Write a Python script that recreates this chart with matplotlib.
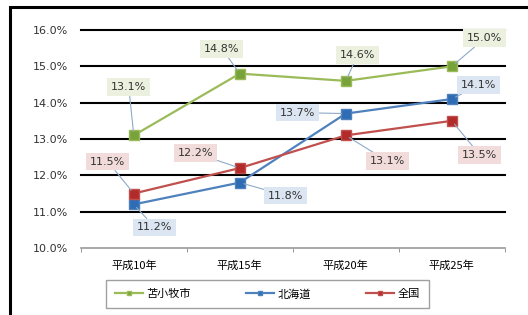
import matplotlib.pyplot as plt
from matplotlib.patches import Rectangle

plt.rcParams['font.family'] = ['Noto Sans CJK JP', 'DejaVu Sans']

categories = ['平成10年', '平成15年', '平成20年', '平成25年']
tomakomai = [13.1, 14.8, 14.6, 15.0]
hokkaido = [11.2, 11.8, 13.7, 14.1]
zenkoku = [11.5, 12.2, 13.1, 13.5]
series_names = ['苫小牧市', '北海道', '全国']

fig = plt.figure(figsize=(5.28, 3.15), dpi=100)
ax = fig.add_axes([0.153, 0.2127, 0.803, 0.692])

# outer frame (cut off on the right / bottom like the scan)
fig.patches.append(Rectangle((10 / 528, -0.05), 1.1, 1 - 7 / 315 + 0.05,
                             transform=fig.transFigure, fill=False,
                             edgecolor='black', lw=2.2, zorder=0))

x = [i + 0.5 for i in range(len(categories))]
colors = ['#9BBB59', '#4F81BD', '#C0504D']
mcolors = ['#77A33A', '#2E6DB4', '#B32A2A']
boxcolors = ['#EBF1DE', '#DCE6F2', '#F2DCDB']
data = [tomakomai, hokkaido, zenkoku]

# label offsets in pixels (dx, dy) from each marker
offsets = [
    [(-5, 48), (-18, 25), (12, 26), (33, 28)],
    [(21, -23), (46, -13), (-48, 1), (27, 14)],
    [(-26, 32), (-44, 15), (42, -26), (28, -34)],
]

for vals, c, mc, bc, offs, name in zip(data, colors, mcolors, boxcolors, offsets, series_names):
    ax.plot(x, vals, color=c, lw=1.6, marker='s', ms=7, mfc=mc, mec=c,
            label=name, zorder=3)
    for xi, v, (dx, dy) in zip(x, vals, offs):
        ax.annotate(f'{v:.1f}%', (xi, v), xytext=(dx, dy), textcoords='offset pixels',
                    ha='center', va='center', fontsize=8, color='#333333',
                    family=['DejaVu Sans'],
                    bbox=dict(boxstyle='square,pad=0.35', fc=bc, ec='none'),
                    arrowprops=dict(arrowstyle='-', color='#8EA9C8', lw=0.8,
                                    shrinkA=0, shrinkB=3),
                    zorder=4)

ax.set_xlim(0, 4)
ax.set_ylim(10, 16)
ax.set_yticks(range(10, 17))
ax.set_yticklabels([f'{v:.1f}%' for v in range(10, 17)], fontsize=8,
                   family=['DejaVu Sans'], color='#333333')
ax.set_xticks(x)
ax.set_xticklabels(categories, fontsize=8)
ax.set_xticks(range(5), minor=True)
ax.tick_params(axis='x', which='major', length=0, pad=9)
ax.tick_params(axis='x', which='minor', length=3, color='#888888', direction='out')
ax.tick_params(axis='y', length=0, pad=9)

for v in range(11, 17):
    ax.axhline(v, color='black', lw=1.5, zorder=1, clip_on=False)

for s in ['top', 'right', 'left']:
    ax.spines[s].set_visible(False)
ax.spines['bottom'].set_color('#999999')
ax.spines['bottom'].set_linewidth(1.2)

leg = ax.legend(loc='upper center', bbox_to_anchor=(267.5 / 528, 1 - 280 / 315),
                bbox_transform=fig.transFigure, ncol=3,
                fontsize=8, frameon=True, fancybox=False, edgecolor='#888888',
                handlelength=2.5, markerscale=0.4, columnspacing=5,
                borderpad=0.8, handletextpad=0.3, borderaxespad=0)
leg.get_frame().set_linewidth(1.0)

fig.savefig('out.png', dpi=100)
